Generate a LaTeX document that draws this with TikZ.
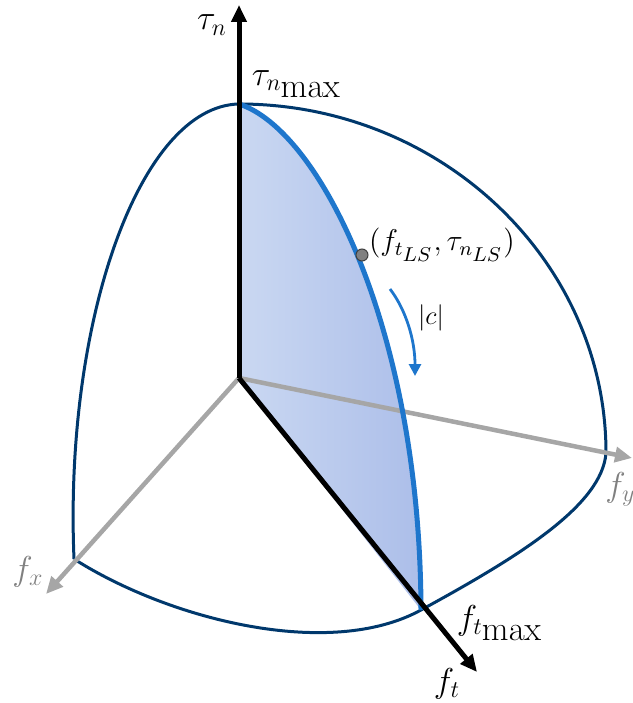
\documentclass[tikz,border=0pt]{standalone}
\usepackage{amsmath}
\usepackage{tikz}
\usetikzlibrary{arrows.meta, positioning}

\definecolor{navyline}{RGB}{0,56,108}
\definecolor{arcblue}{RGB}{30,118,204}
\definecolor{axisgray}{RGB}{166,166,166}
\definecolor{labelgray}{RGB}{128,128,128}
\definecolor{facelight}{RGB}{202,216,242}
\definecolor{facedark}{RGB}{172,190,233}

\begin{document}
\begin{tikzpicture}[
    x=1pt, y=-1pt,
    mainaxis/.style={draw=black, line width=5pt, -{Triangle[length=17pt, width=15pt]}},
    grayaxis/.style={draw=axisgray, line width=4.5pt, -{Triangle[length=17pt, width=15pt]}},
    outline/.style={draw=navyline, line width=3pt},
    limitarc/.style={draw=arcblue, line width=5pt},
    turnarrow/.style={draw=arcblue, line width=2.8pt, -{Triangle[length=12pt, width=12pt]}},
    lspoint/.style={circle, fill=labelgray, draw=black!75, line width=1pt, minimum size=12pt, inner sep=0pt},
    biglabel/.style={font=\fontsize{17.28}{20}\selectfont, scale=2, inner sep=0pt},
    smalllabel/.style={font=\fontsize{12}{14}\selectfont, scale=2, inner sep=0pt}
]
\useasboundingbox (0,0) rectangle (632,703);

% Key points
\coordinate (O) at (239,378);
\coordinate (tnmax) at (239,104);
\coordinate (ftmax) at (421,610);
\coordinate (fxcut) at (74,559);
\coordinate (fycut) at (606,453);
\coordinate (tntip) at (239,5);
\coordinate (fttip) at (477,672);
\coordinate (fxtip) at (46,594);
\coordinate (fytip) at (632,458);

% Shaded face (f_t -- tau_n plane)
\shade[left color=facelight, right color=facedark] (O) -- (tnmax) .. controls (320,130) and (420,330) .. (ftmax) -- cycle;

% Limit surface outline
\draw[outline] (tnmax) .. controls (140,106) and (64,320) .. (fxcut);
\draw[outline] (tnmax) .. controls (441,104) and (606,261) .. (fycut);
\draw[outline] (fxcut) .. controls (170,620) and (330,660) .. (ftmax) .. controls (520,556) and (602,505) .. (fycut);

% Gray axes
\draw[grayaxis] (O) -- (fxtip);
\draw[grayaxis] (O) -- (fytip);

% Blue limit curve
\draw[limitarc] (tnmax) .. controls (320,130) and (420,330) .. (ftmax);

% Black axes
\draw[mainaxis] (O) -- (tntip);
\draw[mainaxis] (O) -- (fttip);

% Point on the curve and direction of |c|
\node[lspoint] (lspt) at (362,255) {};
\coordinate (cstart) at (390,289);
\coordinate (cend) at (415,376);
\draw[turnarrow] (cstart) .. controls (406,310) and (415,340) .. (cend);

% Labels
\node[biglabel] (tnlabel) at (212,25) {$\tau_n$};
\node[biglabel] (tnmaxlabel) at (297,84) {$\tau_{n_{\textstyle\mathrm{max}}}$};
\node[biglabel] (ftmaxlabel) at (500,623) {$f_{t_{\textstyle\mathrm{max}}}$};
\node[biglabel] (ftlabel) at (447,684) {$f_t$};
\node[biglabel, text=labelgray] (fxlabel) at (28,572) {$f_x$};
\node[biglabel, text=labelgray, anchor=west] (fylabel) at (605,489) {$f_y$};
\node[smalllabel, scale=1.25, anchor=west] (lslabel) at ([xshift=0pt, yshift=10pt]lspt.east) {$(f_{t_{\scriptstyle LS}},\tau_{n_{\scriptstyle LS}})$};
\node[smalllabel, scale=1.1] (clabel) at (431,318) {$|c|$};

\end{tikzpicture}
\end{document}
